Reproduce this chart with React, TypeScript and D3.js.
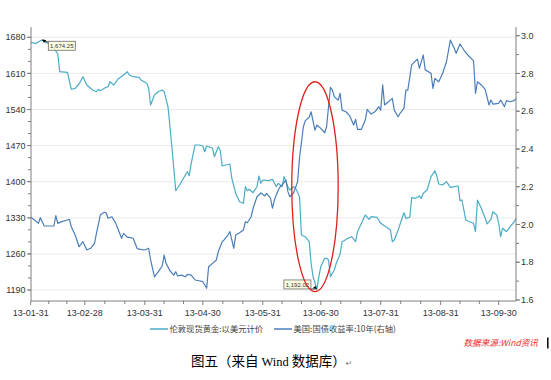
import React from "react";
import * as d3 from "d3";

const goldDates = [
  "2013-01-31","2013-02-03","2013-02-05","2013-02-06","2013-02-08","2013-02-10","2013-02-12","2013-02-14","2013-02-15","2013-02-19",
  "2013-02-21","2013-02-23","2013-02-25","2013-02-27","2013-03-01","2013-03-04","2013-03-06","2013-03-07","2013-03-08","2013-03-11",
  "2013-03-12","2013-03-13","2013-03-15","2013-03-17","2013-03-20","2013-03-22","2013-03-23","2013-03-25","2013-03-28","2013-03-29",
  "2013-04-01","2013-04-02","2013-04-03","2013-04-05","2013-04-07","2013-04-09","2013-04-10","2013-04-12","2013-04-14","2013-04-16",
  "2013-04-18","2013-04-20","2013-04-22","2013-04-23","2013-04-24","2013-04-26","2013-04-28","2013-04-30","2013-05-01","2013-05-02",
  "2013-05-05","2013-05-06","2013-05-08","2013-05-09","2013-05-10","2013-05-12","2013-05-14","2013-05-15","2013-05-17","2013-05-19",
  "2013-05-21","2013-05-22","2013-05-23","2013-05-24","2013-05-26","2013-05-28","2013-05-29","2013-05-30","2013-05-31","2013-06-03",
  "2013-06-05","2013-06-07","2013-06-08","2013-06-10","2013-06-11","2013-06-13","2013-06-14","2013-06-16","2013-06-17","2013-06-19",
  "2013-06-20","2013-06-22","2013-06-24","2013-06-25","2013-06-26","2013-06-28","2013-06-29","2013-06-30","2013-07-02","2013-07-03",
  "2013-07-04","2013-07-05","2013-07-07","2013-07-08","2013-07-10","2013-07-11","2013-07-12","2013-07-14","2013-07-16","2013-07-18",
  "2013-07-19","2013-07-23","2013-07-25","2013-07-26","2013-07-29","2013-07-31","2013-08-03","2013-08-05","2013-08-06","2013-08-07",
  "2013-08-09","2013-08-12","2013-08-13","2013-08-15","2013-08-16","2013-08-18","2013-08-20","2013-08-21","2013-08-22","2013-08-24",
  "2013-08-26","2013-08-28","2013-08-29","2013-08-30","2013-09-01","2013-09-03","2013-09-05","2013-09-07","2013-09-09","2013-09-10",
  "2013-09-11","2013-09-13","2013-09-15","2013-09-17","2013-09-18","2013-09-19","2013-09-21","2013-09-23","2013-09-24","2013-09-26",
  "2013-09-27","2013-09-29","2013-09-30","2013-10-01","2013-10-02","2013-10-04","2013-10-06","2013-10-08","2013-10-09"
];
const goldPrices = [
  1669.5,1668.4,1673.4,1674.25,1669.5,1667,1658.7,1647.6,1613.3,1612.1,
  1579.2,1581.1,1589.4,1603.6,1587.5,1577.8,1574.5,1579.2,1576.5,1583,
  1584.2,1593.9,1587.5,1598.5,1606.9,1613.3,1606.9,1603.6,1602.4,1597.2,
  1590.8,1581.1,1548.7,1568.1,1574.5,1577.8,1574.5,1545.4,1467.9,1382.5,
  1393.6,1406.6,1419.4,1411.6,1435.7,1471.2,1471.2,1469.2,1458.2,1469.2,
  1464.8,1448.5,1467.9,1461.5,1430.4,1432.4,1434.3,1406.6,1377.5,1361.2,
  1358.1,1390.3,1382.5,1385.3,1378.7,1390.3,1411,1396.9,1403.3,1401.9,
  1404.6,1390.3,1396.9,1390.3,1409.7,1390.3,1383.9,1390.3,1387.2,1370.9,
  1296.6,1293.3,1283.7,1241.8,1215.8,1192.02,1215.8,1235.2,1251.5,1251.5,
  1248.2,1215.8,1228.8,1241.8,1259.8,1283.7,1285.6,1290.2,1293.3,1283.7,
  1303,1335.4,1327.1,1332.1,1331,1319.3,1311.6,1306.3,1283.7,1287,
  1306.3,1339.9,1329,1331,1369,1367.8,1372.3,1367.8,1377.5,1383.9,
  1409.7,1421.3,1411,1395.5,1393.6,1400,1389.1,1390.3,1391.7,1363.2,
  1364.5,1325.7,1322.4,1319.3,1303,1364.5,1348.4,1329,1318,1327.1,
  1341.8,1335.4,1319.3,1293.3,1309.6,1303,1312.7,1322.4,1329
];

const yieldDates = [
  "2013-01-31","2013-02-02","2013-02-04","2013-02-05","2013-02-07","2013-02-09","2013-02-12","2013-02-13","2013-02-14","2013-02-16",
  "2013-02-19","2013-02-20","2013-02-21","2013-02-23","2013-02-25","2013-02-27","2013-03-01","2013-03-03","2013-03-05","2013-03-06",
  "2013-03-08","2013-03-10","2013-03-11","2013-03-12","2013-03-14","2013-03-16","2013-03-17","2013-03-19","2013-03-20","2013-03-22",
  "2013-03-23","2013-03-25","2013-03-27","2013-03-28","2013-03-31","2013-04-02","2013-04-03","2013-04-05","2013-04-07","2013-04-09",
  "2013-04-10","2013-04-11","2013-04-13","2013-04-15","2013-04-16","2013-04-17","2013-04-19","2013-04-21","2013-04-22","2013-04-24",
  "2013-04-26","2013-04-28","2013-04-30","2013-05-02","2013-05-03","2013-05-05","2013-05-07","2013-05-08","2013-05-10","2013-05-11",
  "2013-05-13","2013-05-14","2013-05-16","2013-05-17","2013-05-19","2013-05-21","2013-05-22","2013-05-23","2013-05-25","2013-05-26",
  "2013-05-28","2013-05-29","2013-05-30","2013-06-01","2013-06-02","2013-06-04","2013-06-05","2013-06-06","2013-06-08","2013-06-09",
  "2013-06-10","2013-06-12","2013-06-13","2013-06-14","2013-06-16","2013-06-18","2013-06-19","2013-06-21","2013-06-22","2013-06-24",
  "2013-06-25","2013-06-27","2013-06-28","2013-06-30","2013-07-02","2013-07-03","2013-07-05","2013-07-06","2013-07-07","2013-07-09",
  "2013-07-10","2013-07-11","2013-07-13","2013-07-15","2013-07-17","2013-07-18","2013-07-19","2013-07-21","2013-07-23","2013-07-24",
  "2013-07-26","2013-07-28","2013-07-30","2013-07-31","2013-08-01","2013-08-02","2013-08-04","2013-08-06","2013-08-07","2013-08-09",
  "2013-08-10","2013-08-12","2013-08-13","2013-08-14","2013-08-16","2013-08-18","2013-08-19","2013-08-20","2013-08-22","2013-08-23",
  "2013-08-26","2013-08-27","2013-08-28","2013-08-30","2013-09-01","2013-09-03","2013-09-05","2013-09-07","2013-09-08","2013-09-10",
  "2013-09-12","2013-09-14","2013-09-17","2013-09-18","2013-09-19","2013-09-21","2013-09-23","2013-09-25","2013-09-26","2013-09-27",
  "2013-09-30","2013-10-01","2013-10-03","2013-10-04","2013-10-06","2013-10-08","2013-10-09"
];
const yieldValues = [
  2.038,2.024,2.006,2.036,1.992,1.992,1.992,2.047,2.006,2.015,
  2.024,2.027,1.988,1.944,1.882,1.909,1.865,1.874,1.900,1.953,
  2.050,2.065,2.062,2.033,2.041,2.006,1.980,1.927,1.953,1.932,
  1.932,1.927,1.874,1.869,1.865,1.874,1.812,1.723,1.750,1.780,
  1.838,1.794,1.755,1.732,1.750,1.727,1.732,1.723,1.736,1.732,
  1.706,1.702,1.697,1.662,1.776,1.794,1.812,1.856,1.909,1.918,
  1.944,1.962,1.874,1.944,1.956,1.971,2.015,2.009,2.041,2.086,
  2.147,2.156,2.168,2.151,2.165,2.139,2.086,2.130,2.183,2.200,
  2.209,2.236,2.174,2.147,2.168,2.227,2.351,2.518,2.550,2.568,
  2.597,2.500,2.527,2.509,2.486,2.518,2.727,2.712,2.677,2.659,
  2.695,2.606,2.597,2.575,2.527,2.557,2.504,2.504,2.553,2.610,
  2.585,2.597,2.624,2.606,2.739,2.633,2.650,2.668,2.606,2.571,
  2.589,2.615,2.712,2.712,2.845,2.867,2.875,2.827,2.898,2.819,
  2.801,2.721,2.774,2.756,2.801,2.862,2.977,2.933,2.907,2.956,
  2.924,2.898,2.867,2.695,2.756,2.739,2.716,2.633,2.659,2.638,
  2.642,2.659,2.624,2.656,2.650,2.656,2.668
];

const xTickDates = ["2013-01-31","2013-02-28","2013-03-31","2013-04-30","2013-05-31","2013-06-30","2013-07-31","2013-08-31","2013-09-30"];
const leftTicks = [1190, 1260, 1330, 1400, 1470, 1540, 1610, 1680];
const rightTicks = [1.6, 1.8, 2.0, 2.2, 2.4, 2.6, 2.8, 3.0];
const seriesNames = ["伦敦现货黄金:以美元计价", "美国:国债收益率:10年(右轴)"];
const seriesColors = ["#4bacc6", "#4a7ebb"];
const calloutDates = ["2013-02-06", "2013-06-28"];
const calloutValues = [1674.25, 1192.02];
const calloutLabels = ["1,674.25", "1,192.02"];
const ellipseDates = ["2013-06-15", "2013-06-27", "2013-07-09"];
const ellipseYields = [1.644, 2.756];
const sourceText = "数据来源:Wind资讯";

const parse = d3.timeParse("%Y-%m-%d");

export default function App() {
  const left = 31, right = 516, top = 27, bottom = 301;
  const x = d3.scaleTime()
    .domain([parse("2013-01-31")!, parse("2013-09-30")!])
    .range([30.7, 498.7]);
  const yL = d3.scaleLinear().domain([1190, 1680]).range([290, 37.3]);
  const yR = d3.scaleLinear().domain([1.6, 3.0]).range([300, 35.7]);

  const gold = goldDates.map((d, i) => ({ date: parse(d)!, v: goldPrices[i] }));
  const yld = yieldDates.map((d, i) => ({ date: parse(d)!, v: yieldValues[i] }));

  const goldLine = d3.line<{ date: Date; v: number }>().x(d => x(d.date)).y(d => yL(d.v));
  const yldLine = d3.line<{ date: Date; v: number }>().x(d => x(d.date)).y(d => yR(d.v));

  const xMajor = xTickDates.map(d => x(parse(d)!));
  const xMinor: number[] = [];
  for (let i = 0; i < xMajor.length - 1; i++) {
    const a = xMajor[i], b = xMajor[i + 1];
    xMinor.push(a + (b - a) / 3, a + (2 * (b - a)) / 3);
  }
  const leftMinor: number[] = [];
  for (let v = 1190 - 70; v <= 1750; v += 70 / 3) {
    const py = yL(v);
    if (py >= top && py <= bottom) leftMinor.push(py);
  }
  const rightMinor: number[] = [];
  for (let k = 0; k <= 16; k++) {
    const py = yR(1.5 + k * 0.1);
    if (py >= top && py <= bottom) rightMinor.push(py);
  }

  const axisColor = "#7f7f7f";
  const labelColor = "#333";
  const font = "'Liberation Sans', Arial, sans-serif";
  const cjk = "'Noto Sans CJK SC', sans-serif";

  const ex0 = x(parse(ellipseDates[0])!), ecx = x(parse(ellipseDates[1])!), ex1 = x(parse(ellipseDates[2])!);
  const ey0 = yR(ellipseYields[1]), ey1 = yR(ellipseYields[0]);

  return (
    <div style={{ position: "absolute", left: 0, top: 0 }}>
      <svg width={551} height={380} style={{ display: "block", background: "#fff" }}>
        {/* gridlines */}
        {leftTicks.map(t => (
          <line key={"g" + t} x1={left} x2={right} y1={yL(t)} y2={yL(t)} stroke="#ebebeb" strokeWidth={1} />
        ))}
        {/* lines */}
        <path d={goldLine(gold) || ""} fill="none" stroke={seriesColors[0]} strokeWidth={1.2} strokeLinejoin="round" />
        <path d={yldLine(yld) || ""} fill="none" stroke={seriesColors[1]} strokeWidth={1.2} strokeLinejoin="round" />

        {/* axes */}
        <line x1={left} x2={left} y1={top} y2={bottom} stroke={axisColor} />
        <line x1={right} x2={right} y1={top} y2={bottom} stroke={axisColor} />
        <line x1={left} x2={right} y1={bottom} y2={bottom} stroke={axisColor} />
        {leftTicks.map(t => (
          <g key={"l" + t}>
            <line x1={left - 4} x2={left} y1={yL(t)} y2={yL(t)} stroke={axisColor} />
            <text x={left - 5.5} y={yL(t)} dy="0.35em" textAnchor="end" fontSize={9} fontFamily={font} fill={labelColor}>{t}</text>
          </g>
        ))}
        {leftMinor.map((py, i) => (
          <line key={"lm" + i} x1={left - 3} x2={left} y1={py} y2={py} stroke={axisColor} />
        ))}
        {rightTicks.map(t => (
          <g key={"r" + t}>
            <line x1={right} x2={right + 4} y1={yR(t)} y2={yR(t)} stroke={axisColor} />
            <text x={right + 5} y={yR(t)} dy="0.35em" textAnchor="start" fontSize={9} fontFamily={font} fill={labelColor}>{d3.format(".1f")(t)}</text>
          </g>
        ))}
        {rightMinor.map((py, i) => (
          <line key={"rm" + i} x1={right} x2={right + 3} y1={py} y2={py} stroke={axisColor} />
        ))}
        {xMajor.map((px, i) => (
          <g key={"x" + i}>
            <line x1={px} x2={px} y1={bottom} y2={bottom + 4} stroke={axisColor} />
            <text x={px} y={316} textAnchor="middle" fontSize={9} fontFamily={font} fill={labelColor}>{xTickDates[i].slice(2)}</text>
          </g>
        ))}
        {xMinor.map((px, i) => (
          <line key={"xm" + i} x1={px} x2={px} y1={bottom} y2={bottom + 3} stroke={axisColor} />
        ))}

        {/* callouts */}
        {calloutDates.map((d, i) => {
          const px = x(parse(d)!), py = yL(calloutValues[i]);
          const bw = 27, bh = 9;
          const bx = i === 0 ? px + 6 : px - 6 - bw;
          const by = i === 0 ? py + 1 : py - bh;
          const cx = i === 0 ? bx : bx + bw;
          const cy = i === 0 ? by + 1 : by + bh;
          return (
            <g key={"c" + i}>
              <line x1={px} y1={py} x2={cx} y2={cy} stroke="#000" strokeWidth={0.8} />
              <path d={i === 0
                ? `M${px},${py - 1}L${px + 4},${py}L${px + 1.5},${py + 2.5}Z`
                : `M${px},${py}L${px - 4},${py - 1}L${px - 1.5},${py - 3}Z`} fill="#000" />
              <rect x={bx} y={by} width={bw} height={bh} fill="#fdfde2" stroke="#6b6b6b" strokeWidth={0.8} />
              <text x={bx + bw / 2} y={by + bh / 2} dy="0.35em" textAnchor="middle" fontSize={6} fontFamily={font} fill="#333">{calloutLabels[i]}</text>
            </g>
          );
        })}

        {/* red ellipse annotation */}
        <ellipse cx={ecx} cy={(ey0 + ey1) / 2} rx={(ex1 - ex0) / 2} ry={(ey1 - ey0) / 2} fill="none" stroke="#e0201c" strokeWidth={1.3} />

        {/* legend */}
        <line x1={150} x2={168} y1={329} y2={329} stroke={seriesColors[0]} strokeWidth={1.5} />
        <text x={169.5} y={332.3} fontSize={8.3} fontFamily={cjk} fill="#444">{seriesNames[0]}</text>
        <line x1={274} x2={292} y1={329} y2={329} stroke={seriesColors[1]} strokeWidth={1.5} />
        <text x={293.5} y={332.3} fontSize={8.3} fontFamily={cjk} fill="#444">{seriesNames[1]}</text>

        {/* source */}
        <text x={463.5} y={346} fontSize={8.6} fontFamily={cjk} fontStyle="italic" fill="#ee2a2a">{sourceText}</text>
        <rect x={547} y={337.5} width={1.6} height={11} fill="#111" />

        {/* caption */}
        <text x={191} y={366} fontSize={13.5} fill="#000">
          <tspan fontFamily={cjk}>图五（来自 </tspan>
          <tspan fontFamily="'Liberation Serif', 'DejaVu Serif', serif" fontSize={12.5}>Wind</tspan>
          <tspan fontFamily={cjk}> 数据库）</tspan>
          <tspan fontFamily="'DejaVu Sans', sans-serif" fontSize={8} fill="#777">↵</tspan>
        </text>
      </svg>
    </div>
  );
}
